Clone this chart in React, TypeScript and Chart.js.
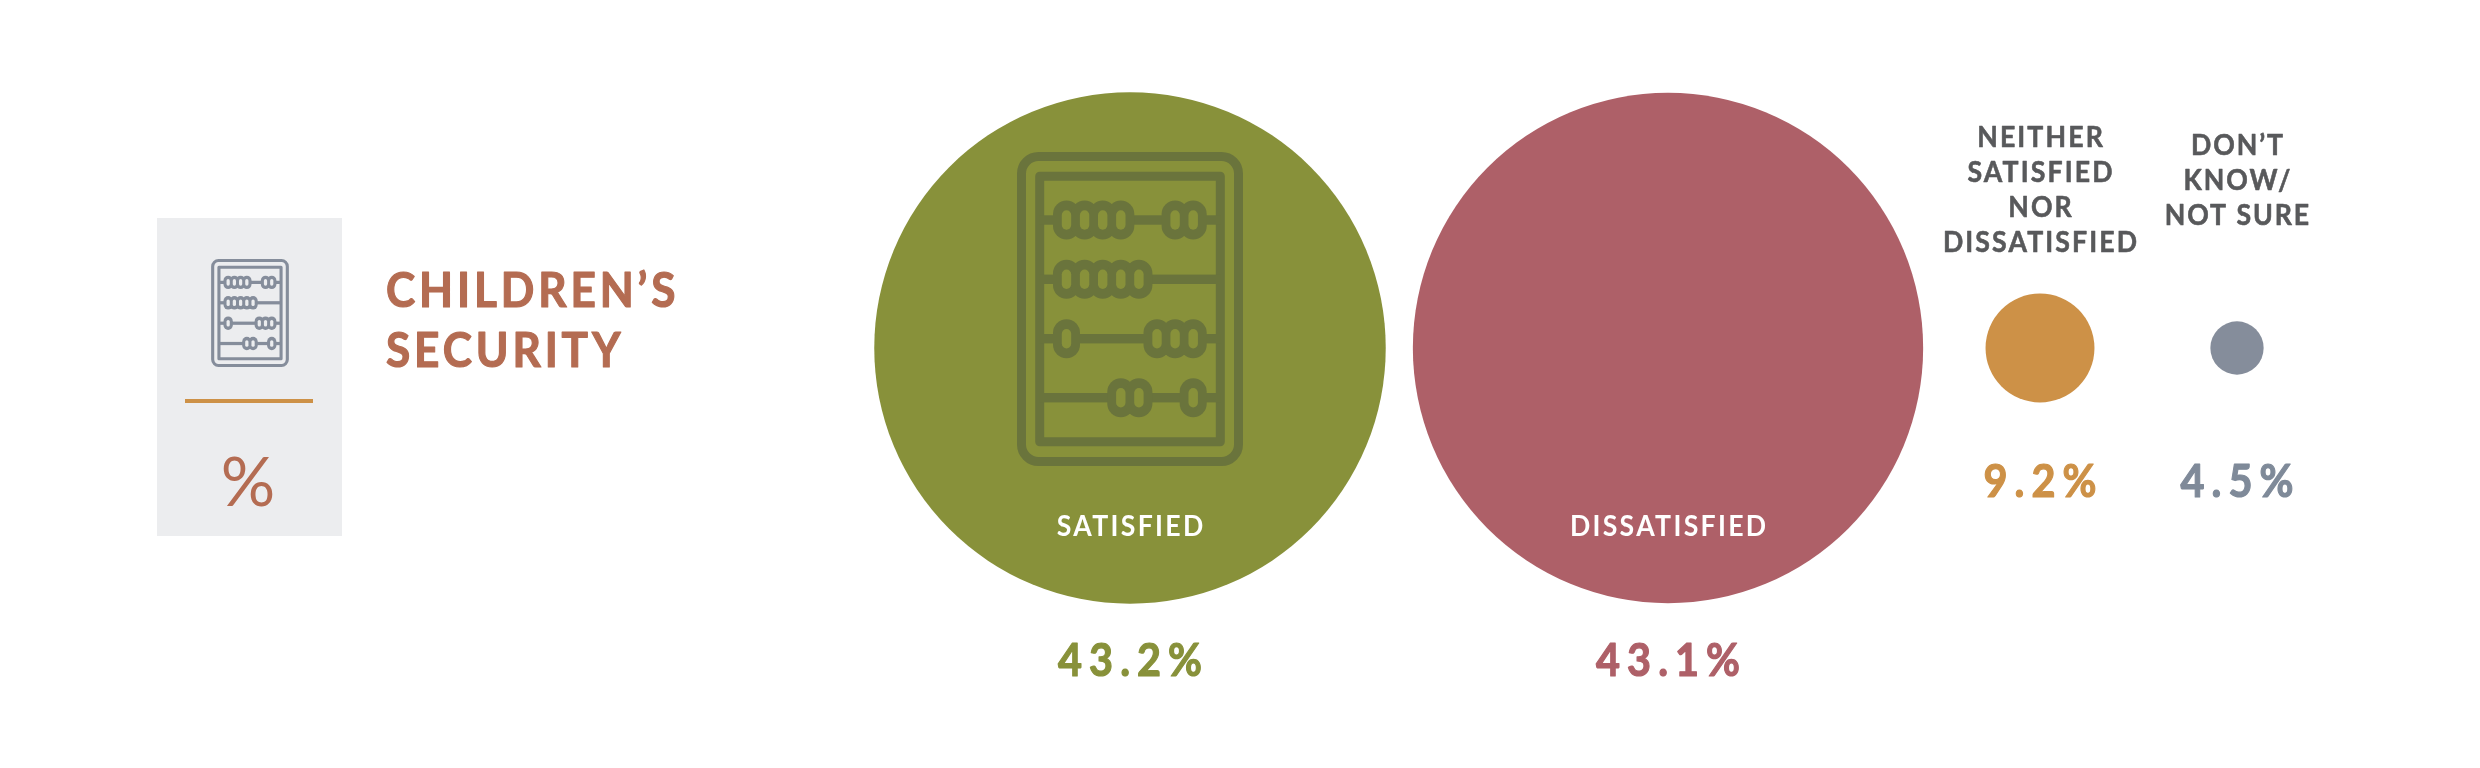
import React, { useEffect, useRef } from "react";
import { Chart, registerables } from "chart.js";

Chart.register(...registerables);

const categories = ["SATISFIED", "DISSATISFIED", "NEITHER SATISFIED NOR DISSATISFIED", "DON’T KNOW/ NOT SURE"];
const values = [43.2, 43.1, 9.2, 4.5];
const colors = ["#88913A", "#AE6068", "#CD9147", "#858D9B"];
const valueTextColors = ["#88913A", "#AE6068", "#CD9147", "#7F8A99"];
const title = ["CHILDREN’S", "SECURITY"];
const unitLabel = "%";

// layout only
const WIDTH = 2480;
const HEIGHT = 768;
const FONT = "Lato, 'Noto Sans', sans-serif";
const CENTRE_Y = 348;
const RADIUS_PER_POINT = 5.92;
const centresX = [1130, 1668, 2040, 2237];
const NARROW = 0.92;
const BEAD_ROWS = [
  [0, 1, 2, 3, 6, 7],
  [0, 1, 2, 3, 4],
  [0, 5, 6, 7],
  [3, 4, 7],
];
const ROD_Y = [-89, -29.7, 29.7, 88.7];

function text(
  ctx: CanvasRenderingContext2D,
  s: string,
  x: number,
  y: number,
  font: string,
  color: string,
  spacing: number,
  align: CanvasTextAlign = "center",
  hscale: number = NARROW,
  embolden: number = 0
) {
  ctx.save();
  ctx.translate(x, y);
  ctx.scale(hscale, 1);
  ctx.font = font;
  ctx.fillStyle = color;
  (ctx as any).letterSpacing = spacing + "px";
  ctx.textAlign = align;
  ctx.textBaseline = "alphabetic";
  const px = align === "center" ? spacing / 2 : 0;
  ctx.fillText(s, px, 0);
  if (embolden > 0) {
    ctx.strokeStyle = color;
    ctx.lineWidth = embolden;
    ctx.lineJoin = "round";
    ctx.strokeText(s, px, 0);
  }
  ctx.restore();
}

function abacus(ctx: CanvasRenderingContext2D, cx: number, cy: number, k: number, ink: string, bg: string) {
  ctx.save();
  ctx.translate(cx, cy);
  ctx.scale(k, k);
  ctx.strokeStyle = ink;
  ctx.fillStyle = ink;
  ctx.lineWidth = 9;
  ctx.lineJoin = "round";
  ctx.beginPath();
  ctx.roundRect(-108.5, -152.5, 217, 305, 17);
  ctx.stroke();
  ctx.beginPath();
  ctx.rect(-90.3, -132.8, 180.6, 265.6);
  ctx.stroke();
  ROD_Y.forEach((y) => {
    ctx.fillRect(-90.3, y - 4.7, 180.6, 9.4);
  });
  BEAD_ROWS.forEach((row, r) => {
    const y = ROD_Y[r];
    row.forEach((slot) => {
      const x = -63.5 + 18.1 * slot;
      ctx.fillStyle = ink;
      ctx.beginPath();
      ctx.roundRect(x - 13.5, y - 19.5, 27, 39, 13.5);
      ctx.fill();
    });
    row.forEach((slot) => {
      const x = -63.5 + 18.1 * slot;
      ctx.fillStyle = bg;
      ctx.beginPath();
      ctx.roundRect(x - 4.7, y - 9.7, 9.4, 19.4, 4.7);
      ctx.fill();
    });
  });
  ctx.restore();
}

const infographic = {
  id: "infographic",
  beforeDraw(chart: any) {
    const ctx = chart.ctx as CanvasRenderingContext2D;
    ctx.save();
    ctx.fillStyle = "#FFFFFF";
    ctx.fillRect(0, 0, WIDTH, HEIGHT);
    ctx.fillStyle = "#ECEDEF";
    ctx.fillRect(157, 218, 185, 318);
    ctx.fillStyle = "#CD9147";
    ctx.fillRect(185, 399, 128, 4);
    abacus(ctx, 250, 313, 0.344, "#858D9B", "#ECEDEF");
    text(ctx, unitLabel, 248, 506, `400 68px ${FONT}`, "#B46C52", 0, "center", 1);
    text(ctx, title[0], 386, 307, `700 48px ${FONT}`, "#B46C52", 4.2, "left", NARROW, 1.2);
    text(ctx, title[1], 386, 367, `700 48px ${FONT}`, "#B46C52", 4.2, "left", NARROW, 1.2);
    ctx.restore();
  },
  afterDatasetsDraw(chart: any) {
    const ctx = chart.ctx as CanvasRenderingContext2D;
    const pts = chart.getDatasetMeta(0).data;
    ctx.save();
    abacus(ctx, pts[0].x, pts[0].y - 39, 1, "#6A743C", colors[0]);
    const labelFont = `700 29px ${FONT}`;
    text(ctx, categories[0], pts[0].x, 536, labelFont, "#FFFFFF", 2.5);
    text(ctx, categories[1], pts[1].x, 536, labelFont, "#FFFFFF", 2.5);
    const neither = ["NEITHER", "SATISFIED", "NOR", "DISSATISFIED"];
    neither.forEach((s, i) => text(ctx, s, pts[2].x, 147 + 35 * i, labelFont, "#58595B", 2.3, "center", NARROW, 0.6));
    const dontKnow = ["DON’T", "KNOW/", "NOT SURE"];
    dontKnow.forEach((s, i) => text(ctx, s, pts[3].x, 155 + 35 * i, labelFont, "#58595B", 2.1, "center", NARROW, 0.6));
    const valueFont = `700 45px ${FONT}`;
    const baselines = [676, 676, 497, 497];
    values.forEach((v, i) =>
      text(ctx, `${v.toFixed(1)}%`, pts[i].x, baselines[i], valueFont, valueTextColors[i], 7.6, "center", NARROW, 1.2)
    );
    ctx.restore();
  },
};

export default function App() {
  const ref = useRef<HTMLCanvasElement>(null);
  useEffect(() => {
    document.body.style.margin = "0";
    const chart = new Chart(ref.current as HTMLCanvasElement, {
      type: "bubble",
      data: {
        labels: categories,
        datasets: [
          {
            label: "Children's security",
            data: values.map((v, i) => ({ x: centresX[i], y: CENTRE_Y, r: v * RADIUS_PER_POINT })),
            backgroundColor: colors,
            borderWidth: 0,
            hoverBorderWidth: 0,
            clip: false,
          } as any,
        ],
      },
      options: {
        responsive: false,
        animation: false,
        layout: { padding: 0, autoPadding: false },
        events: [],
        plugins: { legend: { display: false }, tooltip: { enabled: false } },
        scales: {
          x: { type: "linear", min: 0, max: WIDTH, display: false },
          y: { type: "linear", min: 0, max: HEIGHT, reverse: true, display: false },
        },
      },
      plugins: [infographic],
    } as any);
    return () => chart.destroy();
  }, []);
  return <canvas ref={ref} width={WIDTH} height={HEIGHT} style={{ display: "block" }} />;
}
